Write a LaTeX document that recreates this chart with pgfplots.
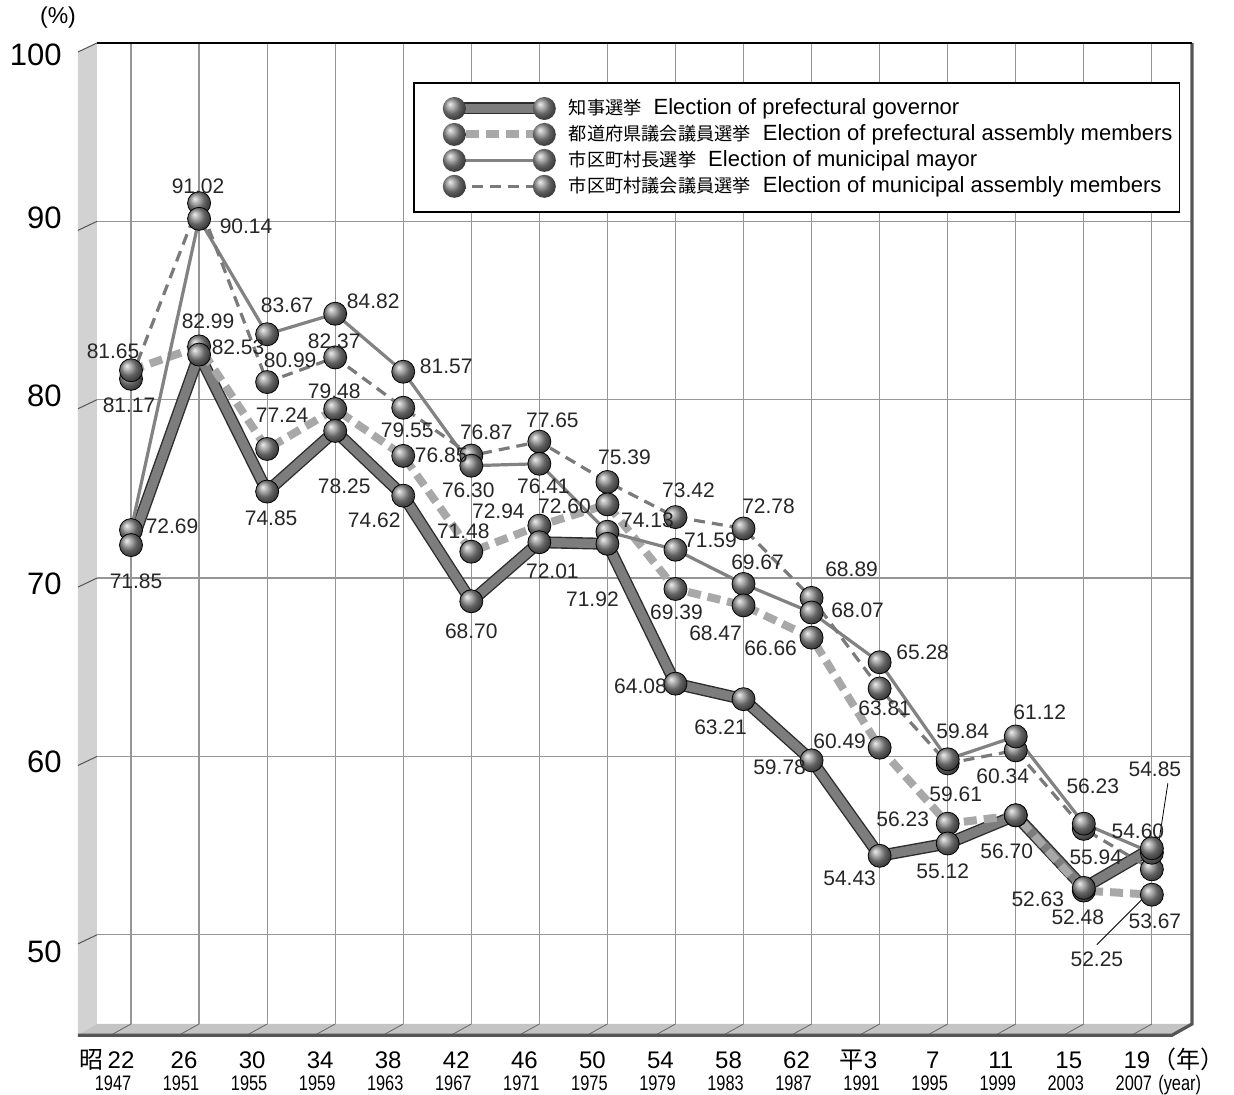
\documentclass[border=0pt]{standalone}
\usepackage{fontspec}
\setmainfont{Liberation Sans}
\newfontfamily\cjk{Noto Sans CJK JP}
\usepackage{graphicx}
\usepackage{pgfplots}
\pgfplotsset{compat=1.18}
\usepackage{pgfplotstable}

\definecolor{govin}{RGB}{125,125,125}
\definecolor{govout}{RGB}{45,45,45}
\definecolor{prefc}{RGB}{168,168,168}
\definecolor{mayorc}{RGB}{130,130,130}
\definecolor{munic}{RGB}{122,122,122}
\definecolor{gridc}{RGB}{150,150,150}
\definecolor{wallc}{RGB}{210,210,210}
\definecolor{floorc}{RGB}{196,196,196}
\definecolor{edgec}{RGB}{85,85,85}
\colorlet{ballc}{gray!90}

\tikzset{
  govline/.style={draw=govout, line width=0.7pt, double=govin, double distance=4.6pt, line join=round},
  prefline/.style={draw=prefc, line width=4pt, dash pattern=on 6.5pt off 3.5pt},
  mayorline/.style={draw=mayorc, line width=1.6pt},
  muniline/.style={draw=munic, line width=1.6pt, dash pattern=on 5.5pt off 3.5pt},
  legball/.style={draw=none, fill=none, shade, ball color=ballc},
}

\newcommand{\xl}[2]{\smash{\hspace*{-7.5pt}\makebox[0pt]{\raisebox{-22.25pt}{\fontsize{12}{12}\selectfont #1}}\hspace*{-1.5pt}\makebox[0pt]{\raisebox{-33.25pt}{\fontsize{10.5}{10.5}\selectfont\scalebox{0.78}[1]{#2}}}\hspace*{9pt}}}
\newcommand{\yl}[2]{\smash{\raisebox{#1}{\fontsize{15.5}{15.5}\selectfont #2}}}

% x: category index (0 = 1947 ... 15 = 2007); dx, dy: label offset in px; op: label shown (1) or not (0)
\pgfplotstableread{
x y dx dy op
0 71.85 5 -36 1
1 82.53 39 7 1
2 74.85 4 -27 1
3 78.25 9 -55 1
4 74.62 -29 -25 1
5 68.70 0 -30 1
6 72.01 13 -29 1
7 71.92 -15 -55 1
8 64.08 -35 -3 1
9 63.21 -23 -28 1
10 59.78 -32 -7 1
11 54.43 -30 -22 1
12 55.12 -5 -28 1
13 56.70 -9 -36 1
14 52.63 -46 -11 1
15 54.85 3 79 1
}\gov
\pgfplotstableread{
x y dx dy op
0 81.65 -18 19 1
1 82.99 9 25 1
2 77.24 15 34 1
3 79.48 -1 18 1
4 76.85 38 1 1
5 71.48 -8 20 1
6 72.94 -41 14 1
7 74.13 40 -16 1
8 69.39 1 -23 1
9 68.47 -28 -28 1
10 66.66 -41 -11 1
11 60.49 -40 6 1
12 56.23 -45 4 1
13 56.70 -9 -36 0
14 52.48 -6 -27 1
15 52.25 -55 -65 1
}\pref
\pgfplotstableread{
x y dx dy op
0 72.69 41 4 1
1 90.14 47 -7 1
2 83.67 20 29 1
3 84.82 38 12 1
4 81.57 43 5 1
5 76.30 -3 -25 1
6 76.41 4 -23 1
7 72.60 -43 25 1
8 71.59 35 9 1
9 69.67 14 22 1
10 68.07 46 2 1
11 65.28 43 10 1
12 59.84 15 28 1
13 61.12 24 24 1
14 56.23 9 37 1
15 54.60 -14 21 1
}\mayor
\pgfplotstableread{
x y dx dy op
0 81.17 -2 -26 1
1 91.02 -1 17 1
2 80.99 23 22 1
3 82.37 -1 16 1
4 79.55 4 -23 1
5 76.87 15 23 1
6 77.65 13 21 1
7 75.39 17 25 1
8 73.42 13 27 1
9 72.78 25 22 1
10 68.89 40 29 1
11 63.81 5 -20 1
12 59.61 8 -31 1
13 60.34 -13 -26 1
14 55.94 12 -28 1
15 53.67 3 -52 1
}\muni

\pgfplotsset{
  ballmarks/.style={only marks, mark=ball, mark size=5.75pt, mark options={ball color=ballc},
    forget plot,
    point meta=y,
    visualization depends on={0.5*\thisrow{dx} \as \dx},
    visualization depends on={0.5*\thisrow{dy} \as \dy},
    visualization depends on={\thisrow{op} \as \op},
    nodes near coords={\pgfmathprintnumber[fixed,fixed zerofill,precision=2,assume math mode=true]{\pgfplotspointmeta}},
    nodes near coords style={anchor=center, inner sep=0pt, xshift=\dx pt, yshift=\dy pt, text opacity=\op, font=\fontsize{10.5}{10.5}\selectfont, text=black!85},
  },
  legimg/.style={legend image code/.code={
   \path (-15.75pt,0pt);
   \draw[#1] (0pt,0pt) -- (45pt,0pt);
   \path[legball] (0pt,0pt) circle (5.75pt);
   \path[legball] (45pt,0pt) circle (5.75pt);}},
}

\begin{document}
\begin{tikzpicture}
\useasboundingbox (-48.5pt,-35.5pt) rectangle (568.5pt,512pt);
\begin{axis}[
  at={(0pt,0pt)}, anchor=south west,
  scale only axis, width=547.5pt, height=490.5pt,
  xmin=-0.5, xmax=15.59, ymin=45, ymax=100,
  clip=false,
  axis line style={draw=none},
  tick style={draw=none}, major tick length=0pt,
  xtick={0,...,15},
  xticklabels={
    \xl{\hspace*{5pt}\llap{{\cjk 昭}\hspace{2pt}}22}{1947},
    \xl{26}{1951}, \xl{30}{1955}, \xl{34}{1959}, \xl{38}{1963},
    \xl{42}{1967}, \xl{46}{1971}, \xl{50}{1975}, \xl{54}{1979},
    \xl{58}{1983}, \xl{62}{1987}, \xl{{\cjk 平}3\hspace*{6pt}}{1991},
    \xl{7}{1995}, \xl{11}{1999}, \xl{15}{2003},
    \xl{19\rlap{\hspace{1pt}{\cjk （年）}}}{2007\rlap{\hspace{4pt}(year)}}},
  xticklabel style={anchor=base, inner sep=0pt},
  ytick={50,60,...,100},
  yticklabels={\yl{-14pt}{50},\yl{-8pt}{60},\yl{-8pt}{70},\yl{-3.5pt}{80},\yl{-3.5pt}{90},\yl{-11.5pt}{100}},
  yticklabel style={anchor=east, inner sep=0pt, xshift=-17.5pt},
  xmajorgrids, ymajorgrids,
  major grid style={draw=gridc, line width=0.6pt},
  legend style={at={(0.2886,0.960)}, anchor=north west, draw=black, line width=0.8pt, fill=white,
    font=\fontsize{11}{11}\selectfont, inner xsep=1.5pt, inner ysep=6pt, row sep=-0.5pt, column sep=4.5pt,
    cells={anchor=west, inner ysep=0.5pt}},
]
% 3D wall and floor
\fill[wallc] (rel axis cs:0,1) -- ++(-9.5pt,-4.5pt) -- ([xshift=-9.5pt,yshift=-5.25pt]rel axis cs:0,0) -- (rel axis cs:0,0) -- cycle;
\fill[floorc] (rel axis cs:0,0) -- (rel axis cs:1,0) -- ++(-10pt,-6.5pt) -- ([xshift=-9.5pt,yshift=-5.25pt]rel axis cs:0,0) -- cycle;
\pgfplotsinvokeforeach{50,60,70,80,90,100}{\draw[edgec, line width=0.5pt] (axis cs:-0.5,#1) -- ++(-9.5pt,-4.5pt);}
\pgfplotsinvokeforeach{0,...,15}{\draw[gray!80!black, line width=0.4pt] (axis cs:#1,45) -- ++(-9.5pt,-5.25pt);}
\draw[edgec, line width=1.6pt] ([xshift=-9.5pt,yshift=-5.6pt]rel axis cs:0,0) -- ([xshift=-10pt,yshift=-5.6pt]rel axis cs:1,0) -- (rel axis cs:1,0) -- (rel axis cs:1,1);
\draw[black, line width=0.6pt] (rel axis cs:0,1) -- (rel axis cs:1,1);
\node[font=\fontsize{11.5}{11.5}\selectfont] at ([xshift=-19.5pt,yshift=12.5pt]rel axis cs:0,1) {(\%)};

% lines
\addplot[govline, legimg={govline}] table[x=x,y=y]{\gov};
\addlegendentry{{\cjk\fontsize{9.1}{11}\selectfont 知事選挙}\hspace{6pt}Election of prefectural governor}
\addplot[prefline, legend image code/.code={
   \path (-15.75pt,0pt);
   \draw[prefline] (6pt,0pt) -- (40pt,0pt);
   \path[legball] (0pt,0pt) circle (5.75pt);
   \path[legball] (45pt,0pt) circle (5.75pt);}] table[x=x,y=y]{\pref};
\addlegendentry{{\cjk\fontsize{9.1}{11}\selectfont 都道府県議会議員選挙}\hspace{6pt}Election of prefectural assembly members}
\addplot[mayorline, legimg={mayorline}] table[x=x,y=y]{\mayor};
\addlegendentry{{\cjk\fontsize{9.1}{11}\selectfont 市区町村長選挙}\hspace{6pt}Election of municipal mayor}
\addplot[muniline, legimg={muniline}] table[x=x,y=y]{\muni};
\addlegendentry{{\cjk\fontsize{9.1}{11}\selectfont 市区町村議会議員選挙}\hspace{6pt}Election of municipal assembly members}

% leader lines
\draw[black, line width=0.4pt] (axis cs:15,54.85) ++(3pt,0pt) -- ++(5pt,32.5pt);
\draw[black, line width=0.4pt] (axis cs:15,52.25) ++(-3.5pt,-1pt) -- ++(-24pt,-24pt);

% markers with value labels
\addplot[ballmarks] table[x=x,y=y]{\muni};
\addplot[ballmarks] table[x=x,y=y]{\mayor};
\addplot[ballmarks] table[x=x,y=y]{\pref};
\addplot[ballmarks] table[x=x,y=y]{\gov};
\end{axis}
\end{tikzpicture}
\end{document}
